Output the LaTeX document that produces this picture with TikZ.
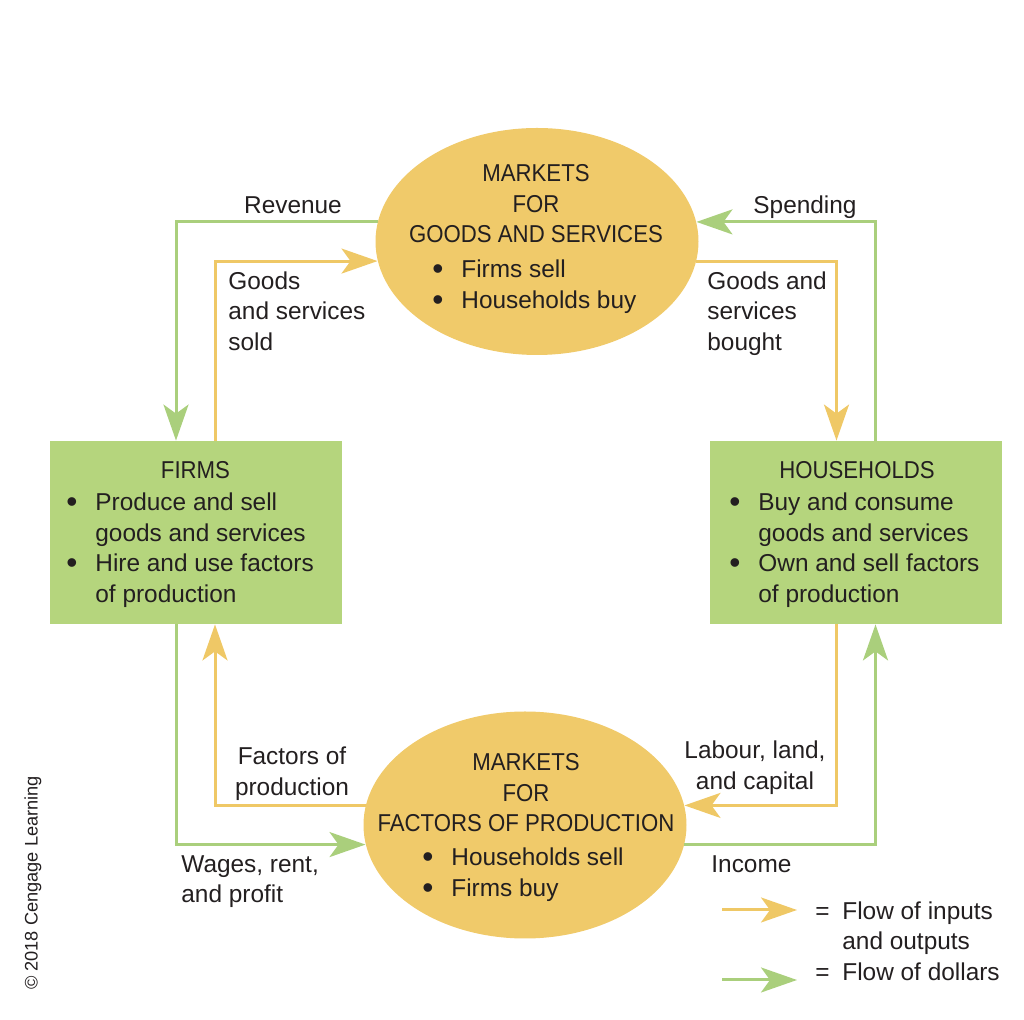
\documentclass[tikz,border=0pt]{standalone}
\usepackage{fontspec}
\usepackage{graphicx}
\setmainfont{Liberation Sans}
\newfontfamily\capsfont[FakeStretch=0.91]{Liberation Sans}
\usetikzlibrary{shapes.geometric,arrows.meta,calc}
\definecolor{marketyellow}{HTML}{F0CA6A}
\definecolor{boxgreen}{HTML}{B5D57D}
\definecolor{flowyellow}{HTML}{EFC866}
\definecolor{flowgreen}{HTML}{AACF7C}
\definecolor{txtgray}{HTML}{231F20}
\newcommand{\bulitem}{\makebox[14.5pt][l]{\raisebox{-1.2pt}{\scalebox{1.3}{\textbullet}}}}
\newcommand{\bulind}{\hspace*{14.5pt}}

\begin{document}
\begin{tikzpicture}[x=0.5pt,y=-0.5pt,
	every node/.style={inner sep=0pt,text=txtgray,font=\fontsize{12.2}{15.25}\selectfont},
	market/.style={ellipse,fill=marketyellow,minimum width=161.5pt,minimum height=113.5pt},
	agent/.style={rectangle,fill=boxgreen,minimum width=146pt,minimum height=91.5pt},
	caps/.style={font=\fontsize{12.2}{15.25}\selectfont\capsfont},
	goodsflow/.style={draw=flowyellow,line width=1.5pt,-{Stealth[length=18pt,width=12.5pt,inset=4.5pt]}},
	dollarflow/.style={draw=flowgreen,line width=1.5pt,-{Stealth[length=18pt,width=12.5pt,inset=4.5pt]}}]
		\useasboundingbox (0,0) rectangle (1024,1020);
		\node[market](goods) at (537,241.5) {};
		\node[market](factors) at (525,825) {};
		\node[agent](firms) at (195.5,532.5) {};
		\node[agent](house) at (856,532.5) {};
		\draw[dollarflow] (goods.173) -| ($(firms.north)+(-19.5,0)$);
		\draw[goodsflow] ($(firms.north)+(19.5,0)$) |- (goods.187);
		\draw[dollarflow] ($(house.north)+(19.5,0)$) |- (goods.7);
		\draw[goodsflow] (goods.353) -| ($(house.north)+(-19.5,0)$);
		\draw[dollarflow] ($(firms.south)+(-19.5,0)$) |- (factors.187);
		\draw[goodsflow] (factors.173) -| ($(firms.south)+(19.5,0)$);
		\draw[goodsflow] ($(house.south)+(-19.5,0)$) |- (factors.7);
		\draw[dollarflow] (factors.353) -| ($(house.south)+(19.5,0)$);
		\node[caps,align=center](goodstitle) at (536,204) {MARKETS\\FOR\\GOODS AND SERVICES};
		\node[align=left,anchor=west](goodslist) at (432,286.5) {\bulitem Firms sell\\\bulitem Households buy};
		\node[caps,align=center](factorstitle) at (526,793) {MARKETS\\FOR\\FACTORS OF PRODUCTION};
		\node[align=left,anchor=west](factorslist) at (422,874.5) {\bulitem Households sell\\\bulitem Firms buy};
		\node[caps](firmstitle) at (195.5,470) {FIRMS};
		\node[align=left,anchor=west](firmslist) at (66,550) {\bulitem Produce and sell\\\bulind goods and services\\\bulitem Hire and use factors\\\bulind of production};
		\node[caps](housetitle) at (857,470) {HOUSEHOLDS};
		\node[align=left,anchor=west](houselist) at (729,550) {\bulitem Buy and consume\\\bulind goods and services\\\bulitem Own and sell factors\\\bulind of production};
		\node[](revenue) at (293,205) {Revenue};
		\node[](spending) at (805,207.5) {Spending};
		\node[align=left,anchor=west](sold) at (228,311) {Goods\\and services\\sold};
		\node[align=left,anchor=west](bought) at (707,313.5) {Goods and\\services\\bought};
		\node[align=center](inputs) at (292,773.5) {Factors of\\production};
		\node[align=center](labour) at (755,767.5) {Labour, land,\\and capital};
		\node[align=left,anchor=west](wages) at (181,881.5) {Wages, rent,\\and profit};
		\node[anchor=west](income) at (711,864) {Income};
		\coordinate (keyinA) at (722,910);
		\coordinate (keyinB) at (797,910);
		\coordinate (keydolA) at (722,980);
		\coordinate (keydolB) at (797,980);
		\draw[goodsflow] (keyinA) -- (keyinB);
		\draw[dollarflow] (keydolA) -- (keydolB);
		\node[align=left,anchor=west](key) at (815,941) {\makebox[13.5pt][l]{=}Flow of inputs\\\hspace*{13.5pt}and outputs\\\makebox[13.5pt][l]{=}Flow of dollars};
		\node[rotate=90,font=\fontsize{9.1}{11}\selectfont](copyright) at (33,883) {© 2018 Cengage Learning};
	\end{tikzpicture}
\end{document}
